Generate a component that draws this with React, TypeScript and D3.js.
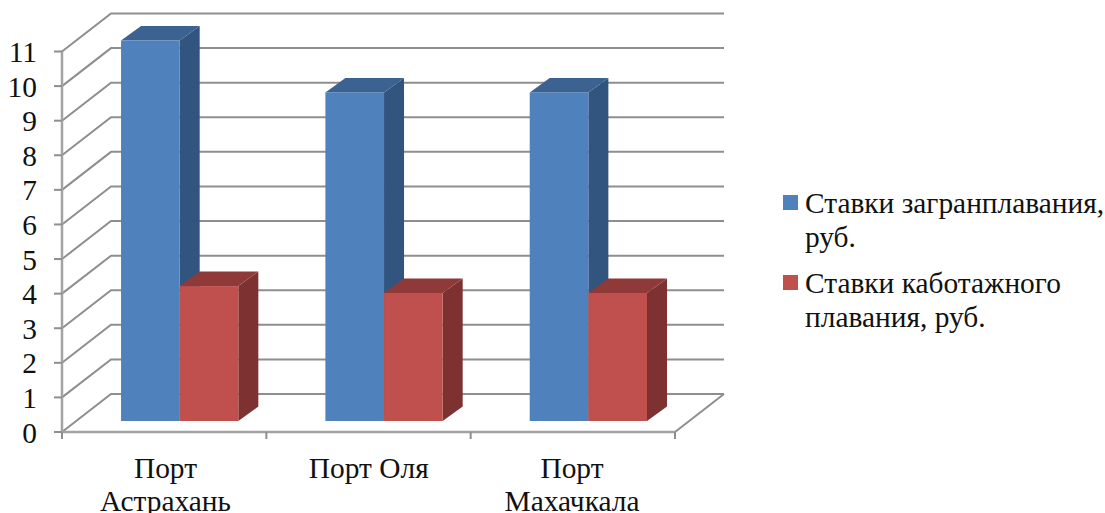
import React from "react";
import * as d3 from "d3";

const categories = [["Порт", "Астрахань"], ["Порт Оля"], ["Порт", "Махачкала"]];
const foreignRates = [11, 9.5, 9.5];
const coastalRates = [3.9, 3.7, 3.7];
const yTicks = [0, 1, 2, 3, 4, 5, 6, 7, 8, 9, 10, 11];
const legendEntries = [
  { color: "#4f81bd", lines: ["Ставки загранплавания,", "руб."] },
  { color: "#c0504d", lines: ["Ставки каботажного", "плавания, руб."] },
];

const series = [
  { values: foreignRates, front: "#4f81bd", top: "#3b6290", side: "#32557f" },
  { values: coastalRates, front: "#c0504d", top: "#8f3a38", side: "#7d3130" },
];

const WIDTH = 1105;
const HEIGHT = 513;
const FONT = "'Liberation Serif', serif";
const GRID = "#8e8e8e";
const AXIS = "#a3a3a3";
const FONT_SIZE = 29.4;

// Oblique projection: the back wall sits up and to the right of the front plane.
const depthX = 49;
const depthY = -38;
const barDepthX = 20;
const barDepthY = -14.5;
const baseline = 432;
const barBaseline = 421;

const y = d3.scaleLinear().domain([0, 11]).range([baseline, 51.5]);
const x = d3.scaleBand<number>().domain(d3.range(categories.length)).range([62, 675]);
const labelX = d3.scalePoint<number>().domain(d3.range(categories.length)).range([165.5, 572]);
const barHeight = (v: number) => baseline - y(v);

const poly = (pts: [number, number][]) => pts.map((p) => p.join(",")).join(" ");

export default function App() {
  const step = x.step();
  const barInset = step * 0.289;
  const barWidth = step * 0.287;

  return (
    <svg
      width={WIDTH}
      height={HEIGHT}
      viewBox={`0 0 ${WIDTH} ${HEIGHT}`}
      style={{ position: "absolute", left: 0, top: 0, background: "#fff" }}
      fontFamily={FONT}
      fill="#111"
    >
      {/* Walls and floor */}
      {yTicks.map((t) => (
        <polyline
          key={t}
          points={poly([
            [62, y(t)],
            [62 + depthX, y(t) + depthY],
            [675 + depthX, y(t) + depthY],
          ])}
          fill="none"
          stroke={GRID}
          strokeWidth={2}
        />
      ))}
      <line x1={675} y1={baseline} x2={675 + depthX} y2={baseline + depthY} stroke={GRID} strokeWidth={2} />
      <line x1={62} y1={y(11)} x2={62} y2={baseline} stroke={AXIS} strokeWidth={2.5} />
      <line x1={62} y1={baseline} x2={675} y2={baseline} stroke={AXIS} strokeWidth={2.5} />

      {/* Axis ticks */}
      {yTicks.map((t) => (
        <line key={t} x1={54} x2={62} y1={y(t)} y2={y(t)} stroke={GRID} strokeWidth={2} />
      ))}
      {d3.range(categories.length + 1).map((i) => (
        <line
          key={i}
          x1={62 + i * step}
          x2={62 + i * step}
          y1={baseline}
          y2={baseline + 7}
          stroke={GRID}
          strokeWidth={2}
        />
      ))}

      {/* Columns, drawn back faces first */}
      {categories.map((_, i) =>
        series.map((s, j) => {
          const x0 = (x(i) as number) + barInset + j * barWidth;
          const x1 = x0 + barWidth;
          const yTop = barBaseline - barHeight(s.values[i]);
          return (
            <g key={`${i}-${j}`}>
              <polygon
                points={poly([
                  [x1, yTop],
                  [x1 + barDepthX, yTop + barDepthY],
                  [x1 + barDepthX, barBaseline + barDepthY],
                  [x1, barBaseline],
                ])}
                fill={s.side}
              />
              <polygon
                points={poly([
                  [x0, yTop],
                  [x0 + barDepthX, yTop + barDepthY],
                  [x1 + barDepthX, yTop + barDepthY],
                  [x1, yTop],
                ])}
                fill={s.top}
              />
              <rect x={x0} y={yTop} width={barWidth} height={barBaseline - yTop} fill={s.front} />
            </g>
          );
        })
      )}

      {/* Value axis labels */}
      {yTicks.map((t) => (
        <text key={t} x={37} y={y(t) + 10.5} textAnchor="end" fontSize={FONT_SIZE}>
          {t}
        </text>
      ))}

      {/* Category labels */}
      {categories.map((lines, i) => (
        <text key={i} textAnchor="middle" fontSize={FONT_SIZE}>
          {lines.map((l, k) => (
            <tspan key={k} x={labelX(i)} y={478 + k * 32.5}>
              {l}
            </tspan>
          ))}
        </text>
      ))}

      {/* Legend */}
      {legendEntries.map((e, i) => (
        <g key={i}>
          <rect x={783} y={195 + i * 80} width={15} height={15} fill={e.color} />
          <text fontSize={FONT_SIZE}>
            {e.lines.map((l, k) => (
              <tspan key={k} x={805} y={213 + i * 80 + k * 33.5}>
                {l}
              </tspan>
            ))}
          </text>
        </g>
      ))}
    </svg>
  );
}
